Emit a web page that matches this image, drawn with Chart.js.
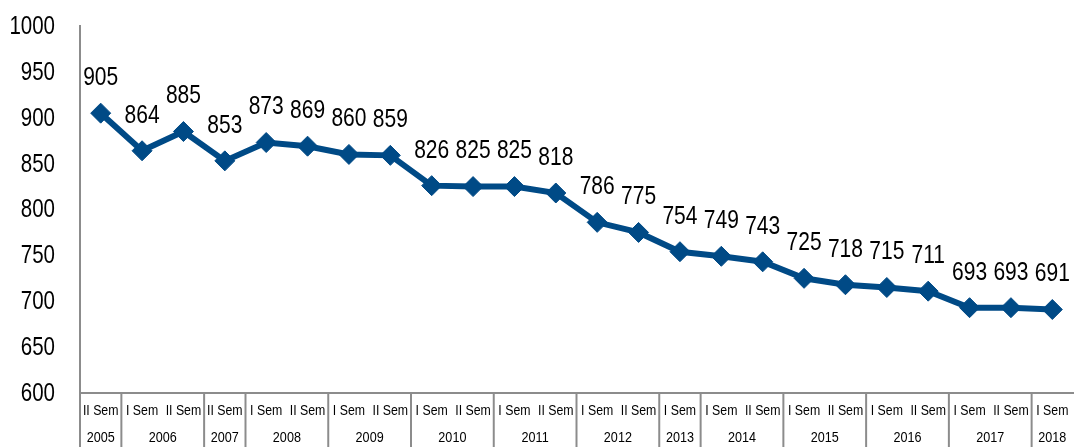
<!DOCTYPE html>
<html><head><meta charset="utf-8">
<script src="https://cdn.jsdelivr.net/npm/chart.js@4/dist/chart.umd.min.js"></script>
<style>html,body{margin:0;padding:0;overflow:hidden;background:#fff}#wrap{width:1084px;height:447px;position:relative}</style>
</head><body><div id="wrap"><canvas id="c"></canvas></div>
<script>
const semesters = ['II Sem','I Sem','II Sem','II Sem','I Sem','II Sem','I Sem','II Sem','I Sem','II Sem','I Sem','II Sem','I Sem','II Sem','I Sem','I Sem','II Sem','I Sem','II Sem','I Sem','II Sem','I Sem','II Sem','I Sem'];
const years = ['2005','2006','2007','2008','2009','2010','2011','2012','2013','2014','2015','2016','2017','2018'];
const yearSpans = [1,2,1,2,2,2,2,2,1,2,2,2,2,1];
const values = [905,864,885,853,873,869,860,859,826,825,825,818,786,775,754,749,743,725,718,715,711,693,693,691];
const yTickValues = [600,650,700,750,800,850,900,950,1000];
const yMin = 600, yMax = 1000, yStep = 50;

const TXT_FONT = "'Liberation Sans',Arial,sans-serif";
const LINE_COLOR = '#004A86';
const AXIS_COLOR = '#8C8C8C';
const SQUEEZE = 0.82;

function condensedText(ctx, text, x, y, align, squeeze) {
  ctx.save();
  ctx.translate(x, y);
  ctx.scale(squeeze, 1);
  ctx.textAlign = align;
  ctx.fillText(text, 0, 0);
  ctx.restore();
}

const overlay = {
  id: 'overlay',
  afterDatasetsDraw(chart) {
    const ctx = chart.ctx;
    const meta = chart.getDatasetMeta(0);
    ctx.save();
    ctx.fillStyle = '#000';
    ctx.font = "25px " + TXT_FONT;
    ctx.textBaseline = 'middle';
    meta.data.forEach((pt, i) => {
      condensedText(ctx, String(values[i]), pt.x, pt.y - 35, 'center', 0.84);
    });
    const ys = chart.scales.y;
    yTickValues.forEach(v => {
      condensedText(ctx, String(v), ys.right - 25, ys.getPixelForValue(v) + 1, 'right', SQUEEZE);
    });
    ctx.restore();
  },
  afterDraw(chart) {
    const ctx = chart.ctx;
    const xs = chart.scales.x;
    const area = chart.chartArea;
    const w = xs.getPixelForValue(1) - xs.getPixelForValue(0);
    ctx.save();
    ctx.fillStyle = '#000';
    ctx.font = "14px " + TXT_FONT;
    ctx.textBaseline = 'middle';
    semesters.forEach((s, i) => {
      condensedText(ctx, s, xs.getPixelForValue(i), area.bottom + 18, 'center', 0.88);
    });
    ctx.strokeStyle = AXIS_COLOR;
    ctx.lineWidth = 2;
    let start = 0;
    yearSpans.forEach((span, g) => {
      const left = xs.getPixelForValue(start) - w / 2;
      const right = xs.getPixelForValue(start + span - 1) + w / 2;
      ctx.beginPath();
      ctx.moveTo(left, area.bottom);
      ctx.lineTo(left, chart.height);
      ctx.stroke();
      condensedText(ctx, years[g], (left + right) / 2, area.bottom + 45, 'center', 0.9);
      start += span;
    });
    ctx.restore();
  }
};

new Chart(document.getElementById('c'), {
  type: 'line',
  data: {
    labels: semesters,
    datasets: [{
      data: values,
      borderColor: LINE_COLOR,
      backgroundColor: LINE_COLOR,
      borderWidth: 6,
      pointStyle: 'rectRot',
      pointRadius: 10,
      pointBorderWidth: 1,
      pointBackgroundColor: LINE_COLOR,
      pointBorderColor: LINE_COLOR,
      tension: 0,
      clip: false
    }]
  },
  options: {
    responsive: true,
    maintainAspectRatio: false,
    animation: false,
    layout: { padding: { top: 26, left: 0, right: 0, bottom: 54 } },
    plugins: { legend: { display: false }, tooltip: { enabled: false } },
    scales: {
      x: {
        offset: true,
        ticks: { display: false },
        grid: { display: false, drawTicks: false },
        border: { display: true, color: AXIS_COLOR, width: 2 }
      },
      y: {
        min: yMin, max: yMax,
        ticks: { stepSize: yStep, display: false },
        grid: { display: false, drawTicks: false },
        border: { display: true, color: AXIS_COLOR, width: 2 },
        afterFit(scale) { scale.width = 80; }
      }
    }
  },
  plugins: [overlay]
});
</script>
</body></html>
